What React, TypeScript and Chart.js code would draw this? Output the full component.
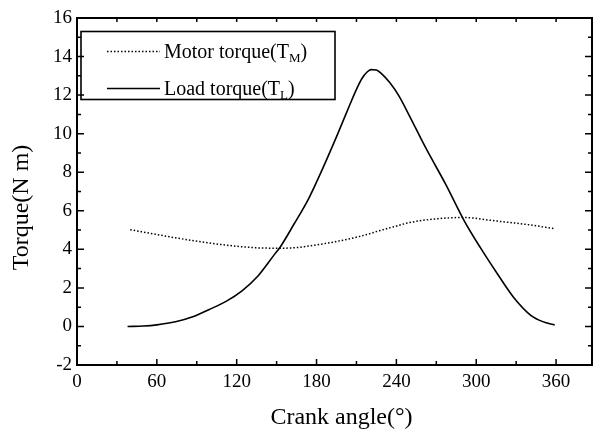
import React, { useEffect, useRef } from "react";
import { Chart, registerables } from "chart.js";

Chart.register(...registerables);

// ---- data ----
const motorAngle = [40, 73, 98, 123, 138, 153, 163, 188, 213, 228, 238, 250, 273, 290, 315, 340, 358];
const motorTorque = [5.02, 4.61, 4.34, 4.14, 4.07, 4.06, 4.08, 4.32, 4.68, 4.98, 5.17, 5.39, 5.6, 5.65, 5.47, 5.27, 5.08];

const loadAngle = [38, 50, 60, 74, 87, 99, 112, 124, 136, 148, 153, 163, 174, 185, 196, 205, 210, 214, 218, 221, 225, 229, 235, 242, 250, 262, 277, 291, 303, 316, 328, 341, 350, 359];
const loadTorque = [0.0, 0.02, 0.08, 0.24, 0.5, 0.87, 1.3, 1.85, 2.62, 3.7, 4.15, 5.3, 6.62, 8.25, 10.0, 11.5, 12.3, 12.85, 13.2, 13.32, 13.3, 13.1, 12.65, 11.95, 10.9, 9.27, 7.38, 5.48, 4.1, 2.72, 1.52, 0.58, 0.25, 0.08];

const xTickValues = [0, 60, 120, 180, 240, 300, 360];
const yTickValues = [-2, 0, 2, 4, 6, 8, 10, 12, 14, 16];

const seriesLabels = ["Motor torque(T", "Load torque(T"];
const seriesSubs = ["M", "L"];
const xTitle = "Crank angle(\u00B0)";
const yTitle = "Torque(N m)";

const X_MIN = 0;
const X_MAX = 387;
const Y_MIN = -2;
const Y_MAX = 16;

const FONT = '"Liberation Serif", "Times New Roman", Times, serif';

const framePlugin = {
  id: "frameTicks",
  afterDatasetsDraw(chart: any) {
    const { ctx, chartArea: a, scales } = chart;
    const x = scales.x;
    const y = scales.y;
    ctx.save();
    ctx.strokeStyle = "#000";
    ctx.setLineDash([]);
    ctx.lineWidth = 2;
    ctx.strokeRect(a.left, a.top, a.right - a.left, a.bottom - a.top);
    ctx.lineWidth = 1.5;
    ctx.beginPath();
    for (let v = Y_MIN; v <= Y_MAX; v++) {
      const py = y.getPixelForValue(v);
      const len = v % 2 === 0 ? 7 : 4;
      ctx.moveTo(a.left, py);
      ctx.lineTo(a.left + len, py);
      ctx.moveTo(a.right, py);
      ctx.lineTo(a.right - len, py);
    }
    for (let v = X_MIN; v <= X_MAX; v += 30) {
      const px = x.getPixelForValue(v);
      const len = v % 60 === 0 ? 6 : 4;
      ctx.moveTo(px, a.bottom);
      ctx.lineTo(px, a.bottom - len);
      ctx.moveTo(px, a.top);
      ctx.lineTo(px, a.top + 4);
    }
    ctx.stroke();
    ctx.restore();
  },
};

const legendTitlePlugin = {
  id: "boxLegendTitles",
  afterDraw(chart: any) {
    const { ctx, chartArea: a } = chart;
    const ds = chart.data.datasets;
    ctx.save();
    // legend box
    const bx = a.left + 4;
    const by = a.top + 13.5;
    const bw = 254;
    const bh = 68;
    ctx.setLineDash([]);
    ctx.lineWidth = 1.6;
    ctx.strokeStyle = "#000";
    ctx.strokeRect(bx, by, bw, bh);
    const rows = [
      { lineY: by + 20, base: by + 26.5 },
      { lineY: by + 57, base: by + 63 },
    ];
    rows.forEach((r, i) => {
      const d = ds[i];
      ctx.save();
      ctx.strokeStyle = d.borderColor;
      ctx.lineWidth = d.borderWidth;
      ctx.setLineDash(d.borderDash || []);
      ctx.beginPath();
      ctx.moveTo(bx + 26, r.lineY);
      ctx.lineTo(bx + 79, r.lineY);
      ctx.stroke();
      ctx.restore();
      ctx.fillStyle = "#000";
      ctx.textBaseline = "alphabetic";
      ctx.textAlign = "left";
      ctx.font = `20px ${FONT}`;
      let tx = bx + 83;
      ctx.fillText(seriesLabels[i], tx, r.base);
      tx += ctx.measureText(seriesLabels[i]).width;
      ctx.font = `13px ${FONT}`;
      ctx.fillText(seriesSubs[i], tx, r.base + 4);
      tx += ctx.measureText(seriesSubs[i]).width;
      ctx.font = `20px ${FONT}`;
      ctx.fillText(")", tx, r.base);
    });
    // axis titles
    ctx.fillStyle = "#000";
    ctx.font = `24px ${FONT}`;
    ctx.textAlign = "center";
    ctx.textBaseline = "middle";
    ctx.fillText(xTitle, (a.left + a.right) / 2 + 7, a.bottom + 53);
    ctx.save();
    ctx.translate(22, (a.top + a.bottom) / 2 + 16);
    ctx.rotate(-Math.PI / 2);
    ctx.fillText(yTitle, 0, 0);
    ctx.restore();
    ctx.restore();
  },
};

export default function App() {
  const ref = useRef<HTMLCanvasElement | null>(null);

  useEffect(() => {
    document.body.style.margin = "0";
    document.body.style.overflow = "hidden";
    const canvas = ref.current;
    if (!canvas) return;
    const chart = new Chart(canvas, {
      type: "line",
      data: {
        datasets: [
          {
            label: "Motor torque(TM)",
            data: motorAngle.map((a, i) => ({ x: a, y: motorTorque[i] })),
            borderColor: "#000",
            borderWidth: 1.5,
            borderDash: [1.5, 2],
            pointRadius: 0,
            fill: false,
            cubicInterpolationMode: "monotone",
          },
          {
            label: "Load torque(TL)",
            data: loadAngle.map((a, i) => ({ x: a, y: loadTorque[i] })),
            borderColor: "#000",
            borderWidth: 1.6,
            pointRadius: 0,
            fill: false,
            cubicInterpolationMode: "monotone",
          },
        ],
      },
      options: {
        responsive: false,
        animation: false,
        layout: { padding: { top: 18, right: 5, left: 0, bottom: 0 } },
        plugins: {
          legend: { display: false },
          tooltip: { enabled: false },
        },
        scales: {
          x: {
            type: "linear",
            min: X_MIN,
            max: X_MAX,
            grid: { display: false, drawTicks: false },
            border: { display: false },
            afterBuildTicks: (s: any) => {
              s.ticks = xTickValues.map((v) => ({ value: v }));
            },
            afterFit: (s: any) => {
              s.height = 74;
            },
            ticks: {
              color: "#000",
              font: { family: FONT, size: 19 },
              padding: 6,
              maxRotation: 0,
              autoSkip: false,
            },
          },
          y: {
            type: "linear",
            min: Y_MIN,
            max: Y_MAX,
            grid: { display: false, drawTicks: false },
            border: { display: false },
            afterBuildTicks: (s: any) => {
              s.ticks = yTickValues.map((v) => ({ value: v }));
            },
            afterFit: (s: any) => {
              s.width = 77;
            },
            ticks: {
              color: "#000",
              font: { family: FONT, size: 19 },
              padding: 5,
              autoSkip: false,
            },
          },
        },
      },
      plugins: [framePlugin, legendTitlePlugin],
    } as any);
    return () => chart.destroy();
  }, []);

  return (
    <div style={{ width: 597, height: 439, background: "#fff" }}>
      <canvas ref={ref} width={597} height={439} style={{ display: "block" }} />
    </div>
  );
}
